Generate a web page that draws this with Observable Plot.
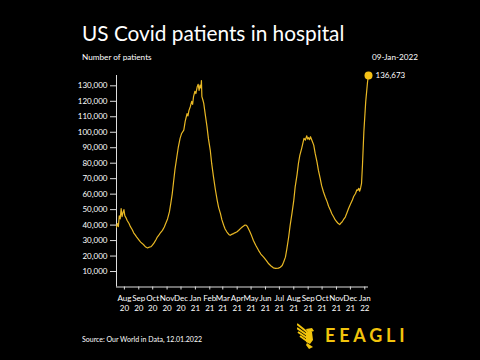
<!DOCTYPE html>
<html><head><meta charset="utf-8">
<script src="https://cdn.jsdelivr.net/npm/d3@7"></script>
<script src="https://cdn.jsdelivr.net/npm/@observablehq/plot@0.6"></script>
<style>
html,body{margin:0;padding:0;background:#000;}
#wrap{position:relative;width:480px;height:360px;background:#000;overflow:hidden;font-family:Lato,"Open Sans",sans-serif;color:#fff;}
#header{position:relative;height:66px;}
#title{position:absolute;left:82px;top:22.4px;font-size:20.8px;line-height:21px;white-space:nowrap;}
#subtitle{position:absolute;left:82px;top:53.4px;font-size:8.2px;line-height:8px;white-space:nowrap;}
#date{position:absolute;right:62px;top:53.4px;font-size:8.2px;line-height:8px;white-space:nowrap;}
#chart svg{display:block;}
#footer{position:relative;height:42px;}
#source{position:absolute;left:82px;top:18.3px;font-size:7px;line-height:7px;white-space:nowrap;}
#logo{position:absolute;left:297px;top:5px;width:19px;height:26px;}
#brand{position:absolute;left:325px;top:7.7px;font-size:18px;line-height:18px;font-weight:bold;letter-spacing:3.8px;color:#f2c40c;white-space:nowrap;}
</style></head>
<body>
<div id="wrap">
  <div id="header">
    <div id="title">US Covid patients in hospital</div>
    <div id="subtitle">Number of patients</div>
    <div id="date">09-Jan-2022</div>
  </div>
  <div id="chart"></div>
  <div id="footer">
    <div id="source">Source: Our World in Data, 12.01.2022</div>
    <svg id="logo" viewBox="0 0 19 26">
      <g stroke="#f2c40c" stroke-width="2" fill="none">
        <path d="M0,1 L10,9"/><path d="M0,5 L10,12"/><path d="M1,9 L10,15"/><path d="M3,13 L10,18"/>
      </g>
      <g fill="#f2c40c">
        <polygon points="9,6 15,5 17,8 14,9 12,12"/>
        <polygon points="9,9 15,9 16,17 13,21 9,19"/>
        <polygon points="10,20 16,24 12,26 9,22"/>
      </g>
    </svg>
    <div id="brand">EEAGLI</div>
  </div>
</div>
<script>
const dates = [
"2020-07-15","2020-07-17","2020-07-19","2020-07-21","2020-07-23","2020-07-25","2020-07-27","2020-07-29","2020-07-31","2020-08-02",
"2020-08-04","2020-08-07","2020-08-11","2020-08-14","2020-08-18","2020-08-21","2020-08-25","2020-08-28","2020-09-02","2020-09-05",
"2020-09-09","2020-09-13","2020-09-16","2020-09-20","2020-09-24","2020-09-27","2020-09-30","2020-10-04","2020-10-08","2020-10-11",
"2020-10-15","2020-10-18","2020-10-22","2020-10-26","2020-10-29","2020-11-02","2020-11-06","2020-11-09","2020-11-12","2020-11-15",
"2020-11-18","2020-11-22","2020-11-25","2020-11-29","2020-12-02","2020-12-07","2020-12-10","2020-12-14","2020-12-16","2020-12-18",
"2020-12-21","2020-12-24","2020-12-26","2020-12-28","2020-12-31","2021-01-02","2021-01-05","2021-01-07","2021-01-09","2021-01-11",
"2021-01-13","2021-01-14","2021-01-15","2021-01-17","2021-01-19","2021-01-22","2021-01-26","2021-01-29","2021-02-02","2021-02-05",
"2021-02-09","2021-02-13","2021-02-17","2021-02-20","2021-02-24","2021-02-27","2021-03-03","2021-03-06","2021-03-10","2021-03-14",
"2021-03-17","2021-03-20","2021-03-24","2021-03-27","2021-03-31","2021-04-04","2021-04-08","2021-04-12","2021-04-15","2021-04-18",
"2021-04-21","2021-04-24","2021-04-28","2021-05-01","2021-05-06","2021-05-11","2021-05-17","2021-05-22","2021-05-28","2021-06-03",
"2021-06-08","2021-06-13","2021-06-18","2021-06-23","2021-06-29","2021-07-03","2021-07-07","2021-07-10","2021-07-14","2021-07-17",
"2021-07-21","2021-07-24","2021-07-28","2021-08-01","2021-08-04","2021-08-08","2021-08-11","2021-08-14","2021-08-18","2021-08-21",
"2021-08-23","2021-08-26","2021-08-29","2021-08-31","2021-09-02","2021-09-04","2021-09-06","2021-09-09","2021-09-13","2021-09-16",
"2021-09-20","2021-09-23","2021-09-27","2021-09-30","2021-10-04","2021-10-08","2021-10-12","2021-10-15","2021-10-19","2021-10-22",
"2021-10-26","2021-10-29","2021-11-02","2021-11-05","2021-11-08","2021-11-10","2021-11-13","2021-11-16","2021-11-20","2021-11-23",
"2021-11-27","2021-12-01","2021-12-05","2021-12-08","2021-12-12","2021-12-15","2021-12-17","2021-12-19","2021-12-21","2021-12-23",
"2021-12-25","2021-12-27","2021-12-30","2022-01-03","2022-01-07","2022-01-09"
];
const patients = [
38700,41000,39000,46000,44000,50700,45500,48000,50000,46000,
45000,43000,41000,39000,37000,35000,33400,32000,30100,29000,
28000,26800,25800,25200,25800,26000,26900,28500,30500,32300,
33800,35200,36600,38800,41000,44000,48500,54000,60000,68000,
76000,84000,90000,96000,99000,101400,107000,112000,110500,114000,
116500,120000,118000,123000,126500,125000,129500,131000,127000,130500,
128500,133400,123000,121000,118700,112000,103600,96000,88500,80000,
71200,63000,56000,51500,47400,43500,39900,37500,35500,34000,
33400,34000,34500,35000,35500,36500,37700,38800,39400,40000,
39900,38500,36000,34000,30100,27000,23700,21300,19300,17000,
15000,13600,12400,12000,12200,12800,13900,16000,19300,24500,
32300,39500,47400,56000,64700,72500,79800,85000,89600,93500,
96000,95000,97700,95500,96500,95200,97100,94800,91700,86500,
80900,75500,70100,65500,61400,58000,55000,52200,49600,47300,
45200,43500,42000,41000,40300,41200,42000,43500,45200,47500,
50700,53500,56000,58500,60400,62800,62500,63800,61900,64000,
66900,78700,100300,119800,132700,136673
];
const yTickValues = [10000,20000,30000,40000,50000,60000,70000,80000,90000,100000,110000,120000,130000];
const xTickDates = ["2020-08-01","2020-09-01","2020-10-01","2020-11-01","2020-12-01","2021-01-01","2021-02-01","2021-03-01","2021-04-01",
"2021-05-01","2021-06-01","2021-07-01","2021-08-01","2021-09-01","2021-10-01","2021-11-01","2021-12-01","2022-01-01"];

const data = dates.map((d, i) => ({date: new Date(d), value: patients[i]}));
const first = data[0], last = data[data.length - 1];
const fmtMonth = d3.utcFormat("%b"), fmtYear = d3.utcFormat("%y");

const chart = Plot.plot({
  width: 480, height: 252,
  marginLeft: 116, marginRight: 112, marginTop: 9, marginBottom: 31.5,
  style: {background: "#000", color: "#fff", fontFamily: "Lato, sans-serif", fontSize: "8px"},
  x: {type: "utc", domain: [first.date, last.date]},
  y: {domain: [0, last.value]},
  marks: [
    Plot.axisY({ticks: yTickValues, tickFormat: d3.format(","), tickSize: 6, tickPadding: 3, label: null, stroke: "#ddd"}),
    Plot.axisX({ticks: xTickDates.map(d => new Date(d)), tickFormat: d => fmtMonth(d) + "\n" + fmtYear(d), tickSize: 3, tickPadding: 4, label: null, lineHeight: 1.25, stroke: "#ddd"}),
    Plot.ruleX([first.date], {stroke: "#ddd"}),
    Plot.ruleY([0], {stroke: "#ddd"}),
    Plot.line(data, {x: "date", y: "value", stroke: "#e9b824", strokeWidth: 1.2}),
    Plot.dot([last], {x: "date", y: "value", r: 4, fill: "#f5c116"}),
    Plot.text([last], {x: "date", y: "value", text: d => d3.format(",")(d.value), dx: 7, textAnchor: "start", fill: "#fff", fontSize: 8})
  ]
});
document.getElementById("chart").appendChild(chart);
</script>
</body></html>
